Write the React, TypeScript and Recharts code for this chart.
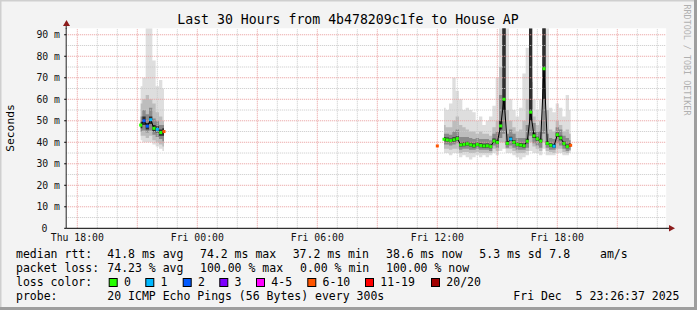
import { ComposedChart, Area, Line, XAxis, YAxis, ReferenceLine, CartesianGrid } from "recharts";

// time axis in hours since Thu 00:00 (30 h window ending Fri 23:26:37)
const START = 17 + 26 / 60 + 37 / 3600;
const END = START + 30;
const STEP = 1 / 6; // 10 min samples

const LOSS_COLORS = ["#26ff00", "#00b8ff", "#0059ff", "#7e00ff", "#ff00ff", "#ff5500", "#ff0000", "#a10000"];
const LOSS_LABELS = ["0", "1", "2", "3", "4-5", "6-10", "11-19", "20/20"];

const X_TICKS = [18, 24, 30, 36, 42];
const X_TICK_LABELS = ["Thu 18:00", "Fri 00:00", "Fri 06:00", "Fri 12:00", "Fri 18:00"];
const Y_TICKS = [0, 10, 20, 30, 40, 50, 60, 70, 80, 90];

// segment 1: Thu 21:10 .. 22:20
const SEG1_START = 21 + 10 / 60;
const MED_1 = [48, 50, 47.5, 50.5, 46.5, 46, 44.5, 45];
const LOSS_1 = [0, 2, 2, 1, 0, 1, 0, 5];
const OUTER_LO_1 = [41, 40, 40, 40, 39, 38, 37, 36];
const OUTER_HI_1 = [66, 70, 93, 93, 78, 66, 69, 65];
const MID_LO_1 = [43, 43, 42, 43, 41, 40, 39, 38];
const MID_HI_1 = [58, 60, 62, 60, 58, 54, 52, 50];
const INNER_LO_1 = [45, 45.5, 44.5, 45.5, 43.5, 42.5, 41.5, 40.5];
const INNER_HI_1 = [52, 55, 53, 56, 51, 50, 48, 48];
const CORE_LO_1 = [46.5, 48, 46, 48.5, 45, 44.5, 43, 43];
const CORE_HI_1 = [49.5, 52, 49, 52, 48, 47.5, 46, 46.5];

// segment 2: lone sample at Fri 12:00
const SEG2_START = 36;
const MED_2 = [38.3];
const LOSS_2 = [5];
const OUTER_LO_2 = [37];
const OUTER_HI_2 = [40];
const MID_LO_2 = [37.5];
const MID_HI_2 = [39.5];
const INNER_LO_2 = [38];
const INNER_HI_2 = [38.8];
const CORE_LO_2 = [38.1];
const CORE_HI_2 = [38.6];

// segment 3: Fri 12:20 .. 18:40
const SEG3_START = 36 + 20 / 60;
const MED_3 = [
  41.4, 41.1, 40.8, 41.2, 41.7, 38.8, 39.0, 39.3, 38.8, 38.4,
  39.0, 38.5, 38.3, 38.4, 38.0, 40.6, 40.0, 47.6, 60, 39.5,
  41.5, 40, 39.0, 38.7, 38.4, 40.5, 54, 43, 41.6, 40.6,
  74.2, 39.5, 38.6, 38.2, 43.5, 42, 39.4, 38, 38.6,
];
const LOSS_3 = [
  0, 0, 0, 0, 0, 0, 0, 0, 0, 0,
  0, 0, 0, 0, 0, 0, 0, 0, 0, 0,
  1, 0, 0, 0, 0, 0, 0, 0, 0, 0,
  0, 0, 0, 1, 0, 0, 0, 0, 5,
];
const OUTER_LO_3 = [
  35, 35, 34, 35, 35, 33, 34, 33, 32, 33,
  34, 33, 34, 33, 34, 35, 34, 36, 37, 35,
  35, 34, 33, 32, 33, 34, 36, 35, 35, 34,
  37, 34, 34, 34, 35, 35, 34, 34, 35,
];
const OUTER_HI_3 = [
  56, 55, 58, 70, 64, 60, 55, 56, 55, 54,
  50, 52, 48, 50, 52, 57, 70, 93, 93, 93,
  60, 55, 52, 56, 72, 84, 80, 60, 55, 60,
  93, 93, 56, 54, 58, 56, 52, 62, 55,
];
const MID_LO_3 = [
  37, 37, 36.5, 37, 37, 35, 35.5, 35.5, 35, 35,
  35.5, 35, 35, 35, 35, 37, 36, 40, 40, 37,
  37, 36, 35, 35, 35, 36, 40, 38, 37, 36,
  40, 36, 35.5, 35, 37, 37, 35.5, 35, 36,
];
const MID_HI_3 = [
  48, 47, 47, 50, 52, 48, 47, 46, 45, 45,
  44, 45, 44, 44, 43, 47, 50, 75, 93, 55,
  50, 47, 45, 46, 50, 60, 70, 52, 48, 50,
  93, 55, 46, 45, 50, 48, 45, 46, 44,
];
const INNER_LO_3 = [
  39, 39, 38.5, 39, 39.5, 36.5, 37, 37, 36.5, 36.5,
  37, 36.5, 36.5, 36.5, 36, 38.5, 37.5, 42, 44, 37.5,
  38.5, 37.5, 36.5, 36.5, 36.5, 37.5, 43, 39.5, 38.5, 37.5,
  44, 37.5, 36.5, 36.5, 39.5, 38.5, 37, 36, 36.5,
];
const INNER_HI_3 = [
  44, 44, 43.5, 45, 46, 42.5, 42.5, 42.5, 42, 41.5,
  42, 41.5, 41.5, 41.5, 41, 44, 45, 62, 93, 44,
  46, 44, 42, 42, 42, 48, 68, 49, 45, 45,
  93, 44, 42, 41.5, 47, 46, 43, 42, 41,
];
const CORE_LO_3 = [
  40.5, 40.2, 40, 40.3, 40.8, 38, 38.2, 38.5, 38, 37.6,
  38.2, 37.7, 37.5, 37.6, 37.2, 39.7, 39.2, 46, 55, 38.7,
  40.6, 39.2, 38.2, 37.9, 37.6, 39.6, 50, 42, 40.7, 39.8,
  60, 38.7, 37.8, 37.4, 42.5, 41, 38.6, 37.2, 37.8,
];
const CORE_HI_3 = [
  42.5, 42.2, 41.8, 42.3, 42.8, 39.8, 40, 40.3, 39.8, 39.4,
  40, 39.5, 39.3, 39.4, 39, 41.7, 41.2, 50, 93, 40.5,
  42.6, 41, 40, 39.7, 39.4, 41.6, 93, 44.5, 42.6, 41.6,
  93, 40.5, 39.6, 39.2, 44.6, 43, 40.4, 39, 39.5,
];

const segments = [
  { start: SEG1_START, med: MED_1, loss: LOSS_1, oLo: OUTER_LO_1, oHi: OUTER_HI_1, mLo: MID_LO_1, mHi: MID_HI_1, iLo: INNER_LO_1, iHi: INNER_HI_1, cLo: CORE_LO_1, cHi: CORE_HI_1 },
  { start: SEG2_START, med: MED_2, loss: LOSS_2, oLo: OUTER_LO_2, oHi: OUTER_HI_2, mLo: MID_LO_2, mHi: MID_HI_2, iLo: INNER_LO_2, iHi: INNER_HI_2, cLo: CORE_LO_2, cHi: CORE_HI_2 },
  { start: SEG3_START, med: MED_3, loss: LOSS_3, oLo: OUTER_LO_3, oHi: OUTER_HI_3, mLo: MID_LO_3, mHi: MID_HI_3, iLo: INNER_LO_3, iHi: INNER_HI_3, cLo: CORE_LO_3, cHi: CORE_HI_3 },
];

type Row = {
  t: number;
  med: number | null;
  loss: number | null;
  outer: number[] | null;
  mid: number[] | null;
  inner: number[] | null;
  core: number[] | null;
};

const data: Row[] = [];
segments.forEach((s) => {
  s.med.forEach((m, i) => {
    data.push({
      t: s.start + i * STEP,
      med: m,
      loss: s.loss[i],
      outer: [s.oLo[i], s.oHi[i]],
      mid: [s.mLo[i], s.mHi[i]],
      inner: [s.iLo[i], s.iHi[i]],
      core: [s.cLo[i], s.cHi[i]],
    });
  });
  // no data between segments
  data.push({ t: s.start + s.med.length * STEP, med: null, loss: null, outer: null, mid: null, inner: null, core: null });
});

const hours: number[] = [];
for (let h = 18; h <= 47; h++) hours.push(h);
const minorY = [5, 15, 25, 35, 45, 55, 65, 75, 85];
const majorY = [10, 20, 30, 40, 50, 60, 70, 80, 90];

const MONO = "'DejaVu Sans Mono', monospace";

function LossDot(props: any) {
  const { cx, cy, index, payload } = props;
  if (cx == null || cy == null || payload.med == null) return <g key={`d${index}`} />;
  return <rect key={`d${index}`} x={cx - 1.5} y={cy - 1.5} width={3} height={3} fill={LOSS_COLORS[payload.loss]} />;
}

function XTick(props: any) {
  const { x, payload } = props;
  const i = X_TICKS.indexOf(payload.value);
  return (
    <text x={x} y={237.5} textAnchor="middle" dominantBaseline="central" fontFamily={MONO} fontSize={9.8} fill="#111">
      {X_TICK_LABELS[i]}
    </text>
  );
}

function YTick(props: any) {
  const { y, payload } = props;
  const v = payload.value;
  return (
    <text x={v === 0 ? 47.5 : 60} y={y} textAnchor="end" dominantBaseline="central" fontFamily={MONO} fontSize={9.8} fill="#111">
      {v === 0 ? "0" : `${v} m`}
    </text>
  );
}

const legendRow1 = [
  ["median rtt:", 16],
  ["41.8 ms avg", 107.3],
  ["74.2 ms max", 200],
  ["37.2 ms min", 292.7],
  ["38.6 ms now", 386],
  ["5.3 ms sd", 479.3],
  ["7.8", 549.3],
  ["am/s", 600],
] as const;
const legendRow2 = [
  ["packet loss:", 16],
  ["74.23 % avg", 107.3],
  ["100.00 % max", 200],
  ["0.00 % min", 300],
  ["100.00 % now", 386],
] as const;
const lossBoxX = [108.7, 145.3, 182.7, 219.3, 256, 307.3, 365, 431];

export default function App() {
  return (
    <div style={{ position: "relative", width: 697, height: 310, background: "#f3f3f3", overflow: "hidden" }}>
      <style>{"body{margin:0}"}</style>
      <div style={{ position: "absolute", left: 0, top: 0 }}>
        <ComposedChart width={697} height={310} data={data} margin={{ top: 28.3, right: 30.8, bottom: 0, left: 0 }}>
          <CartesianGrid fill="#ffffff" fillOpacity={1} horizontal={false} vertical={false} stroke="none" />
          <XAxis
            dataKey="t"
            type="number"
            domain={[START, END]}
            ticks={X_TICKS}
            allowDataOverflow
            height={81.7}
            axisLine={{ stroke: "#000" }}
            tickLine={false}
            tick={<XTick />}
            interval={0}
          />
          <YAxis
            type="number"
            domain={[0, 93]}
            ticks={Y_TICKS}
            allowDataOverflow
            width={66.2}
            axisLine={{ stroke: "#222" }}
            tickLine={{ stroke: "#000" }}
            tickSize={2}
            tick={<YTick />}
            interval={0}
          />
          <Area dataKey="outer" type="step" stroke="none" fill="#dedede" fillOpacity={1} isAnimationActive={false} connectNulls={false} />
          <Area dataKey="mid" type="step" stroke="none" fill="#bdbdbd" fillOpacity={1} isAnimationActive={false} connectNulls={false} />
          <Area dataKey="inner" type="step" stroke="none" fill="#8a8a8a" fillOpacity={1} isAnimationActive={false} connectNulls={false} />
          <Area dataKey="core" type="step" stroke="none" fill="#2e2e2e" fillOpacity={1} isAnimationActive={false} connectNulls={false} />
          {hours
            .filter((h) => h % 3 !== 0)
            .map((h) => (
              <ReferenceLine key={`vx${h}`} x={h} stroke="#c8c8c8" strokeDasharray="1 1" />
            ))}
          {minorY.map((v) => (
            <ReferenceLine key={`hy${v}`} y={v} stroke="#c8c8c8" strokeDasharray="1 1" />
          ))}
          {hours
            .filter((h) => h % 3 === 0)
            .map((h) => (
              <ReferenceLine key={`VX${h}`} x={h} stroke="#e89a9a" strokeDasharray="1 1" />
            ))}
          {majorY.map((v) => (
            <ReferenceLine key={`HY${v}`} y={v} stroke="#e89a9a" strokeDasharray="1 1" />
          ))}
          <Line
            dataKey="med"
            type="linear"
            stroke="#000"
            strokeWidth={1}
            dot={LossDot}
            activeDot={false}
            connectNulls={false}
            isAnimationActive={false}
          />
        </ComposedChart>
      </div>
      <svg width={697} height={310} style={{ position: "absolute", left: 0, top: 0, pointerEvents: "none" }}>
        {/* frame */}
        <line x1={0} y1={0.5} x2={697} y2={0.5} stroke="#cfcfcf" strokeWidth={2} />
        <line x1={0.5} y1={0} x2={0.5} y2={310} stroke="#cfcfcf" strokeWidth={2} />
        <line x1={695.5} y1={0} x2={695.5} y2={310} stroke="#9e9e9e" strokeWidth={3} />
        <line x1={0} y1={308.5} x2={697} y2={308.5} stroke="#9e9e9e" strokeWidth={3} />
        {/* axis extensions + arrows */}
        <line x1={666} y1={228.3} x2={670} y2={228.3} stroke="#000" />
        <line x1={66.2} y1={24} x2={66.2} y2={29} stroke="#222" />
        <polygon points="669,225 675,228.3 669,231.6" fill="#8c1c1c" />
        <polygon points="63,26 66.5,20 70,26" fill="#8c1c1c" />
        {/* title */}
        <text x={348} y={19} textAnchor="middle" dominantBaseline="central" fontFamily={MONO} fontSize={13.2} fill="#000">
          Last 30 Hours from 4b478209c1fe to House AP
        </text>
        <text
          transform="translate(10.5,128) rotate(-90)"
          textAnchor="middle"
          dominantBaseline="central"
          fontFamily={MONO}
          fontSize={11.3}
          fill="#000"
        >
          Seconds
        </text>
        <text
          transform="translate(687,60) rotate(90)"
          textAnchor="middle"
          dominantBaseline="central"
          fontFamily={MONO}
          fontSize={8.4}
          fill="#b0b0b0"
        >
          RRDTOOL / TOBI OETIKER
        </text>
        {/* legend */}
        {legendRow1.map(([s, x]) => (
          <text key={s} x={x} y={254.3} dominantBaseline="central" fontFamily={MONO} fontSize={11.5} fill="#000" style={{ whiteSpace: "pre" }}>
            {s}
          </text>
        ))}
        {legendRow2.map(([s, x]) => (
          <text key={s} x={x} y={268.2} dominantBaseline="central" fontFamily={MONO} fontSize={11.5} fill="#000" style={{ whiteSpace: "pre" }}>
            {s}
          </text>
        ))}
        <text x={16} y={282.3} dominantBaseline="central" fontFamily={MONO} fontSize={11.5} fill="#000">
          loss color:
        </text>
        {LOSS_LABELS.map((l, i) => (
          <g key={l}>
            <rect x={lossBoxX[i] + 0.5} y={278.5} width={8} height={8} fill={LOSS_COLORS[i]} stroke="#000" strokeWidth={1} />
            <text x={lossBoxX[i] + 15.3} y={282.3} dominantBaseline="central" fontFamily={MONO} fontSize={11.5} fill="#000">
              {l}
            </text>
          </g>
        ))}
        <text x={16} y={296.2} dominantBaseline="central" fontFamily={MONO} fontSize={11.5} fill="#000">
          probe:
        </text>
        <text x={107.3} y={296.2} dominantBaseline="central" fontFamily={MONO} fontSize={11.5} fill="#000">
          20 ICMP Echo Pings (56 Bytes) every 300s
        </text>
        <text x={513.3} y={296.2} dominantBaseline="central" fontFamily={MONO} fontSize={11.5} fill="#000" style={{ whiteSpace: "pre" }}>
          Fri Dec  5 23:26:37 2025
        </text>
      </svg>
    </div>
  );
}
